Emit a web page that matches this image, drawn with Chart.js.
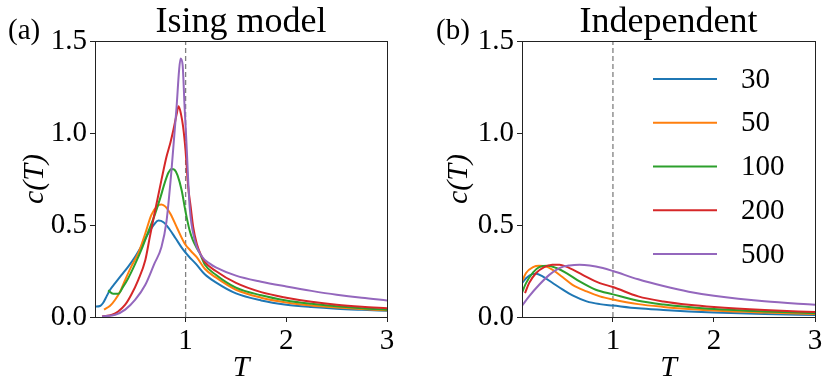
<!DOCTYPE html>
<html>
<head>
<meta charset="utf-8">
<script src="https://cdn.jsdelivr.net/npm/chart.js@4.4.0/dist/chart.umd.min.js"></script>
<style>
  html, body { margin: 0; padding: 0; background: #fff; }
  #wrap { position: relative; width: 830px; height: 392px; }
  canvas { position: absolute; top: 0; }
  #ising { left: 0; }
  #indep { left: 415px; }
</style>
</head>
<body>
<div id="wrap">
  <canvas id="ising" width="415" height="392"></canvas>
  <canvas id="indep" width="415" height="392"></canvas>
</div>
<script>
const sizes = ['30', '50', '100', '200', '500'];
const xTicks = [1, 2, 3];
const yTicks = [0, 0.5, 1.0, 1.5];
const criticalT = 1;

// (a) Ising model
const isingT30 = [0.10, 0.15, 0.18, 0.215, 0.25, 0.30, 0.36, 0.43, 0.50, 0.56, 0.63, 0.69, 0.73, 0.78, 0.84, 0.90, 0.97, 1.03, 1.10, 1.19, 1.30, 1.50, 1.75, 2.00, 2.25, 2.50, 2.75, 3.00];
const isingC30 = [0.056, 0.060, 0.076, 0.112, 0.148, 0.184, 0.226, 0.274, 0.329, 0.383, 0.455, 0.505, 0.524, 0.515, 0.477, 0.428, 0.370, 0.330, 0.290, 0.232, 0.188, 0.128, 0.090, 0.067, 0.054, 0.045, 0.039, 0.034];
const isingT50 = [0.19, 0.25, 0.30, 0.35, 0.40, 0.46, 0.53, 0.60, 0.66, 0.72, 0.76, 0.80, 0.85, 0.92, 0.99, 1.05, 1.11, 1.19, 1.30, 1.50, 1.75, 2.00, 2.25, 2.50, 2.75, 3.00];
const isingC50 = [0.040, 0.061, 0.094, 0.139, 0.202, 0.274, 0.347, 0.455, 0.555, 0.603, 0.612, 0.600, 0.560, 0.478, 0.400, 0.360, 0.325, 0.262, 0.215, 0.148, 0.105, 0.079, 0.063, 0.052, 0.043, 0.036];
const isingT100 = [0.23, 0.28, 0.33, 0.38, 0.43, 0.50, 0.56, 0.63, 0.69, 0.75, 0.79, 0.83, 0.86, 0.89, 0.92, 0.96, 1.00, 1.04, 1.07, 1.11, 1.14, 1.19, 1.30, 1.50, 1.75, 2.00, 2.25, 2.50, 2.75, 3.00];
const isingC100 = [0.145, 0.126, 0.126, 0.165, 0.211, 0.290, 0.365, 0.465, 0.550, 0.650, 0.725, 0.785, 0.805, 0.800, 0.770, 0.690, 0.570, 0.470, 0.420, 0.375, 0.347, 0.285, 0.230, 0.160, 0.118, 0.090, 0.072, 0.058, 0.047, 0.039];
const isingT200 = [0.17, 0.27, 0.33, 0.40, 0.46, 0.53, 0.60, 0.645, 0.69, 0.76, 0.81, 0.85, 0.88, 0.91, 0.93, 0.955, 0.975, 1.00, 1.025, 1.05, 1.075, 1.11, 1.15, 1.19, 1.30, 1.50, 1.75, 2.00, 2.25, 2.50, 2.75, 3.00];
const isingC200 = [0.003, 0.012, 0.030, 0.067, 0.121, 0.202, 0.310, 0.437, 0.560, 0.745, 0.871, 0.950, 1.020, 1.100, 1.145, 1.100, 1.034, 0.900, 0.710, 0.600, 0.490, 0.400, 0.340, 0.300, 0.250, 0.185, 0.135, 0.105, 0.083, 0.067, 0.056, 0.048];
const isingT500 = [0.17, 0.30, 0.40, 0.50, 0.60, 0.69, 0.76, 0.81, 0.86, 0.91, 0.935, 0.95, 0.97, 0.99, 1.007, 1.04, 1.09, 1.16, 1.24, 1.30, 1.50, 1.75, 2.00, 2.25, 2.50, 2.75, 3.00];
const isingC500 = [0.003, 0.012, 0.040, 0.094, 0.175, 0.290, 0.380, 0.520, 0.800, 1.140, 1.340, 1.405, 1.370, 1.140, 0.960, 0.600, 0.420, 0.330, 0.290, 0.270, 0.225, 0.192, 0.166, 0.142, 0.121, 0.104, 0.090];

// (b) Independent
const indepT30 = [0.10, 0.14, 0.20, 0.24, 0.30, 0.40, 0.50, 0.60, 0.74, 0.87, 1.00, 1.25, 1.50, 1.75, 2.00, 2.50, 3.00];
const indepC30 = [0.184, 0.211, 0.233, 0.235, 0.222, 0.186, 0.150, 0.117, 0.085, 0.070, 0.062, 0.047, 0.038, 0.030, 0.024, 0.016, 0.011];
const indepT50 = [0.10, 0.14, 0.21, 0.27, 0.34, 0.40, 0.50, 0.60, 0.74, 0.87, 1.00, 1.25, 1.50, 1.75, 2.00, 2.50, 3.00];
const indepC50 = [0.193, 0.239, 0.271, 0.278, 0.274, 0.257, 0.217, 0.175, 0.139, 0.112, 0.095, 0.070, 0.055, 0.044, 0.035, 0.024, 0.016];
const indepT100 = [0.10, 0.14, 0.21, 0.27, 0.355, 0.44, 0.54, 0.67, 0.83, 1.00, 1.25, 1.50, 1.75, 2.00, 2.50, 3.00];
const indepC100 = [0.133, 0.184, 0.242, 0.271, 0.278, 0.266, 0.239, 0.193, 0.148, 0.123, 0.088, 0.068, 0.054, 0.043, 0.030, 0.021];
const indepT200 = [0.13, 0.17, 0.24, 0.32, 0.40, 0.47, 0.57, 0.70, 0.87, 1.00, 1.25, 1.50, 1.75, 2.00, 2.50, 3.00];
const indepC200 = [0.130, 0.184, 0.239, 0.271, 0.284, 0.284, 0.266, 0.229, 0.184, 0.163, 0.112, 0.084, 0.066, 0.054, 0.038, 0.027];
const indepT500 = [0.10, 0.17, 0.27, 0.37, 0.47, 0.57, 0.67, 0.77, 0.90, 1.00, 1.25, 1.50, 1.75, 2.00, 2.50, 3.00];
const indepC500 = [0.061, 0.112, 0.175, 0.229, 0.266, 0.280, 0.284, 0.280, 0.266, 0.250, 0.205, 0.168, 0.137, 0.115, 0.085, 0.067];

const colors = ['#1f77b4', '#ff7f0e', '#2ca02c', '#d62728', '#9467bd'];
const serif = "'Liberation Serif', 'Times New Roman', serif";

function buildSets(ts, cs) {
  const sets = ts.map((t, i) => ({
    label: sizes[i],
    data: t.map((x, j) => ({ x: x, y: cs[i][j] })),
    borderColor: colors[i],
    borderWidth: 2,
    pointRadius: 0,
    cubicInterpolationMode: 'monotone',
    order: ts.length - i
  }));
  // dashed line at T = 1
  sets.push({
    label: 'Tc',
    data: [{ x: criticalT, y: yTicks[0] }, { x: criticalT, y: yTicks[yTicks.length - 1] }],
    borderColor: '#808080',
    borderWidth: 1.3,
    borderDash: [5, 3],
    pointRadius: 0,
    order: 10
  });
  return sets;
}

// frame, titles and the custom legend
const panelDecor = {
  id: 'panelDecor',
  afterDatasetsDraw(chart, args, opts) {
    const { ctx, chartArea: a } = chart;
    ctx.save();
    ctx.strokeStyle = '#222';
    ctx.lineWidth = 1;
    ctx.strokeRect(Math.round(a.left) + 0.5, Math.round(a.top) + 0.5,
                   Math.round(a.right - a.left), Math.round(a.bottom - a.top));
    ctx.fillStyle = '#000';
    ctx.textBaseline = 'alphabetic';
    ctx.font = '36px ' + serif;
    ctx.textAlign = 'center';
    ctx.fillText(opts.title, (a.left + a.right) / 2, a.top - 9);
    ctx.font = '29px ' + serif;
    ctx.textAlign = 'left';
    ctx.fillText(opts.letter, opts.letterX, a.top - 2);

    if (opts.legend) {
      const sets = chart.data.datasets.filter(d => sizes.includes(d.label));
      sets.forEach((d, i) => {
        const y = a.top + 38 + i * 43.75;
        const x0 = a.right - 162;
        ctx.strokeStyle = d.borderColor;
        ctx.lineWidth = 2;
        ctx.beginPath();
        ctx.moveTo(x0, y);
        ctx.lineTo(x0 + 64, y);
        ctx.stroke();
        ctx.textBaseline = 'middle';
        ctx.fillText(d.label, x0 + 88, y + 1);
      });
    }
    ctx.restore();
  }
};

function makeChart(id, ts, cs, cfg) {
  return new Chart(document.getElementById(id), {
    type: 'line',
    data: { datasets: buildSets(ts, cs) },
    plugins: [panelDecor],
    options: {
      responsive: false,
      animation: false,
      devicePixelRatio: 1,
      layout: { padding: { left: 0, right: cfg.padRight, top: 41, bottom: 0 } },
      scales: {
        x: {
          type: 'linear',
          min: 0.1,
          max: 3,
          afterBuildTicks: s => { s.ticks = xTicks.map(v => ({ value: v })); },
          afterFit: s => { s.height = 75; },
          border: { display: false },
          grid: { drawOnChartArea: false, drawTicks: true, tickLength: 5, color: '#222', tickColor: '#222' },
          ticks: { color: '#000', font: { family: serif, size: 29 }, padding: 2, maxRotation: 0,
                   callback: v => String(v) },
          title: { display: true, text: 'T', color: '#000',
                   font: { family: serif, size: 30, style: 'italic', lineHeight: 1 },
                   padding: { top: 0, bottom: 9 } }
        },
        y: {
          min: 0,
          max: 1.5,
          afterBuildTicks: s => { s.ticks = yTicks.map(v => ({ value: v })); },
          afterFit: s => { s.width = cfg.yWidth; },
          border: { display: false },
          grid: { drawOnChartArea: false, drawTicks: true, tickLength: 5, color: '#222', tickColor: '#222' },
          ticks: { color: '#000', font: { family: serif, size: 29 }, padding: 3,
                   callback: v => v.toFixed(1) },
          title: { display: true, text: 'c(T)', color: '#000',
                   font: { family: serif, size: 30, style: 'italic', lineHeight: 1 },
                   padding: { top: cfg.yTitlePad, bottom: 0 } }
        }
      },
      plugins: {
        legend: { display: false },
        tooltip: { enabled: false },
        panelDecor: { title: cfg.title, letter: cfg.letter, letterX: cfg.letterX, legend: cfg.legend }
      }
    }
  });
}

makeChart('ising',
  [isingT30, isingT50, isingT100, isingT200, isingT500],
  [isingC30, isingC50, isingC100, isingC200, isingC500],
  { title: 'Ising model', letter: '(a)', letterX: 8, legend: false, yWidth: 95, padRight: 28, yTitlePad: 20 });

makeChart('indep',
  [indepT30, indepT50, indepT100, indepT200, indepT500],
  [indepC30, indepC50, indepC100, indepC200, indepC500],
  { title: 'Independent', letter: '(b)', letterX: 21, legend: true, yWidth: 107, padRight: 15, yTitlePad: 29 });
</script>
</body>
</html>
